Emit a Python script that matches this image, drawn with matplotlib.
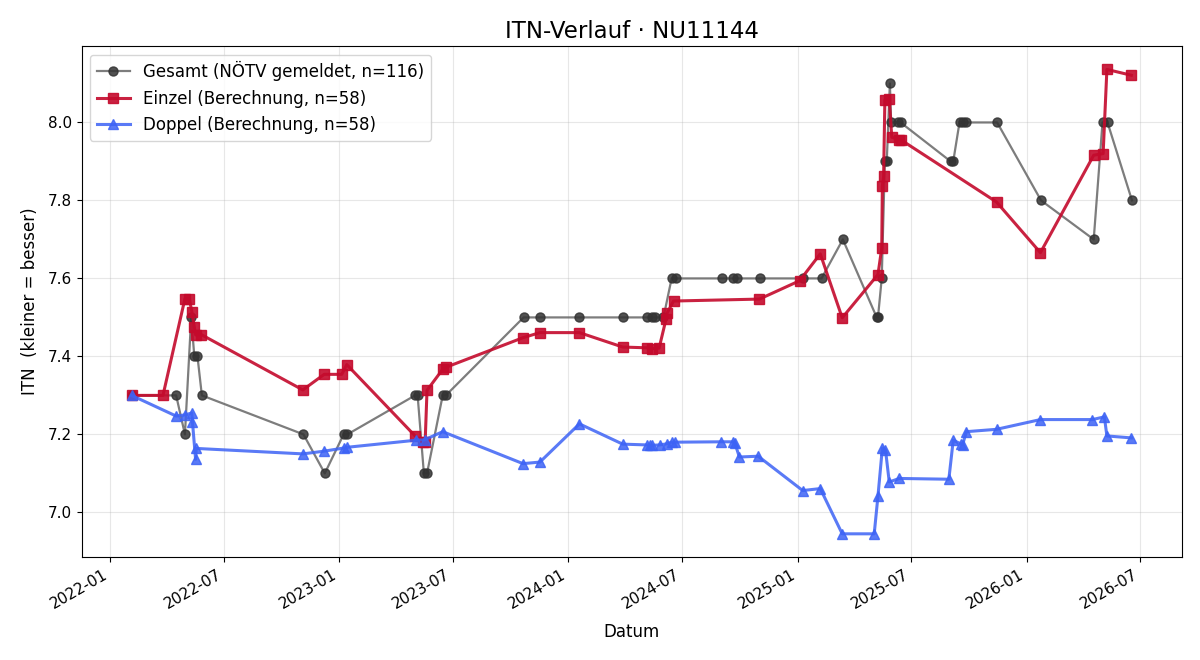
import matplotlib
matplotlib.use("Agg")
import matplotlib.pyplot as plt
import matplotlib.dates as mdates
import pandas as pd

# Gesamt (NÖTV gemeldet)
gesamt_dates = [
    "2022-02-04", "2022-04-16", "2022-04-30", "2022-05-10", "2022-05-15", "2022-05-20",
    "2022-05-27", "2022-11-05", "2022-12-09", "2023-01-08", "2023-01-14", "2023-05-02",
    "2023-05-06", "2023-05-16", "2023-05-21", "2023-06-15", "2023-06-20", "2023-10-22",
    "2023-11-17", "2024-01-19", "2024-03-29", "2024-05-05", "2024-05-13", "2024-05-18",
    "2024-06-01", "2024-06-14", "2024-06-21", "2024-09-02", "2024-09-20", "2024-09-26",
    "2024-11-02", "2025-01-09", "2025-02-08", "2025-03-14", "2025-05-07", "2025-05-09",
    "2025-05-15", "2025-05-20", "2025-05-23", "2025-05-28", "2025-05-30", "2025-06-10",
    "2025-06-14", "2025-09-02", "2025-09-06", "2025-09-16", "2025-09-21", "2025-09-27",
    "2025-11-15", "2026-01-24", "2026-04-18", "2026-05-02", "2026-05-10", "2026-06-18",
]
gesamt_itn = [
    7.3, 7.3, 7.2, 7.5, 7.4, 7.4,
    7.3, 7.2, 7.1, 7.2, 7.2, 7.3,
    7.3, 7.1, 7.1, 7.3, 7.3, 7.5,
    7.5, 7.5, 7.5, 7.5, 7.5, 7.5,
    7.5, 7.6, 7.6, 7.6, 7.6, 7.6,
    7.6, 7.6, 7.6, 7.7, 7.5, 7.5,
    7.6, 7.9, 7.9, 8.1, 8.0, 8.0,
    8.0, 7.9, 7.9, 8.0, 8.0, 8.0,
    8.0, 7.8, 7.7, 8.0, 8.0, 7.8,
]

# Einzel (Berechnung)
einzel_dates = [
    "2022-02-04", "2022-03-26", "2022-04-30", "2022-05-07", "2022-05-11", "2022-05-15",
    "2022-05-17", "2022-05-26", "2022-11-04", "2022-12-08", "2023-01-05", "2023-01-13",
    "2023-05-02", "2023-05-14", "2023-05-18", "2023-05-21", "2023-06-15", "2023-06-20",
    "2023-10-21", "2023-11-17", "2024-01-19", "2024-03-28", "2024-05-06", "2024-05-13",
    "2024-05-25", "2024-06-05", "2024-06-07", "2024-06-17", "2024-11-01", "2025-01-04",
    "2025-02-06", "2025-03-13", "2025-05-09", "2025-05-15", "2025-05-16", "2025-05-18",
    "2025-05-20", "2025-05-27", "2025-05-31", "2025-06-12", "2025-06-14", "2025-11-14",
    "2026-01-23", "2026-04-18", "2026-05-03", "2026-05-09", "2026-06-17",
]
einzel_itn = [
    7.300, 7.300, 7.548, 7.548, 7.515, 7.475,
    7.455, 7.456, 7.314, 7.354, 7.354, 7.379,
    7.196, 7.180, 7.180, 7.313, 7.367, 7.372,
    7.448, 7.461, 7.461, 7.424, 7.422, 7.420,
    7.421, 7.495, 7.512, 7.542, 7.547, 7.594,
    7.663, 7.499, 7.610, 7.678, 7.837, 7.862,
    8.058, 8.060, 7.962, 7.956, 7.956, 7.796,
    7.666, 7.916, 7.920, 8.136, 8.121,
]

# Doppel (Berechnung)
doppel_dates = [
    "2022-02-04", "2022-04-16", "2022-04-30", "2022-05-11", "2022-05-12", "2022-05-17",
    "2022-05-18", "2022-11-04", "2022-12-08", "2023-01-08", "2023-01-14", "2023-05-03",
    "2023-05-17", "2023-06-15", "2023-10-21", "2023-11-17", "2024-01-19", "2024-03-28",
    "2024-05-05", "2024-05-11", "2024-05-14", "2024-05-26", "2024-06-07", "2024-06-14",
    "2024-06-19", "2024-09-01", "2024-09-20", "2024-09-23", "2024-09-30", "2024-10-30",
    "2025-01-09", "2025-02-06", "2025-03-13", "2025-05-03", "2025-05-09", "2025-05-16",
    "2025-05-21", "2025-05-27", "2025-06-12", "2025-08-30", "2025-09-06", "2025-09-19",
    "2025-09-21", "2025-09-27", "2025-11-14", "2026-01-23", "2026-04-16", "2026-05-05",
    "2026-05-09", "2026-06-17",
]
doppel_itn = [
    7.300, 7.247, 7.250, 7.255, 7.232, 7.136,
    7.164, 7.150, 7.157, 7.165, 7.167, 7.185,
    7.186, 7.207, 7.125, 7.129, 7.227, 7.175,
    7.173, 7.172, 7.172, 7.173, 7.176, 7.180,
    7.180, 7.181, 7.181, 7.177, 7.142, 7.144,
    7.056, 7.061, 6.945, 6.945, 7.042, 7.165,
    7.160, 7.078, 7.087, 7.085, 7.185, 7.175,
    7.174, 7.207, 7.213, 7.238, 7.238, 7.245,
    7.196, 7.191,
]

fig, ax = plt.subplots(figsize=(12, 6.6), dpi=100)

ax.plot(pd.to_datetime(gesamt_dates), gesamt_itn, color="#666666", lw=1.6,
        marker="o", ms=6.5, mfc="#333333", mec="#333333", alpha=0.85,
        label="Gesamt (NÖTV gemeldet, n=116)")
ax.plot(pd.to_datetime(einzel_dates), einzel_itn, color="#c40a2c", lw=2.2,
        marker="s", ms=7.5, alpha=0.9, label="Einzel (Berechnung, n=58)")
ax.plot(pd.to_datetime(doppel_dates), doppel_itn, color="#3d63f5", lw=2.2,
        marker="^", ms=7.5, alpha=0.85, label="Doppel (Berechnung, n=58)")

ax.set_title("ITN-Verlauf · NU11144", fontsize=16.5)
ax.set_xlabel("Datum", fontsize=12, labelpad=8)
ax.set_ylabel("ITN  (kleiner = besser)", fontsize=12, labelpad=6)
ax.grid(True, alpha=0.3)
ax.legend(loc="upper left", fontsize=12)

ax.xaxis.set_major_locator(mdates.MonthLocator(bymonth=[1, 7]))
ax.xaxis.set_major_formatter(mdates.DateFormatter("%Y-%m"))
ax.tick_params(labelsize=11)
fig.autofmt_xdate()

fig.subplots_adjust(left=0.068, right=0.985, top=0.93, bottom=0.156)
plt.savefig("out.png")
